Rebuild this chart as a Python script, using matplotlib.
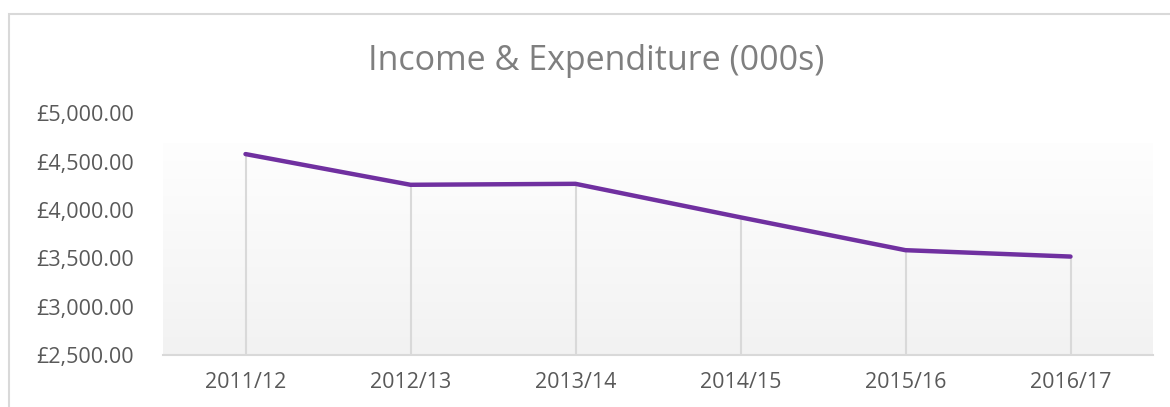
import numpy as np
import matplotlib.pyplot as plt
from matplotlib.patches import Rectangle
from matplotlib.ticker import FuncFormatter

years = ["2011/12", "2012/13", "2013/14", "2014/15", "2015/16", "2016/17"]
values = [4580, 4262, 4272, 3925, 3585, 3519]
yticks = [2500, 3000, 3500, 4000, 4500, 5000]

plt.rcParams['font.family'] = ['Open Sans', 'DejaVu Sans']

fig = plt.figure(figsize=(11.7, 4.07), dpi=100)
ax = fig.add_axes([163 / 1170, 1 - 355 / 407, (1153 - 163) / 1170, (355 - 113.5) / 407])

x = np.arange(len(years))
ax.set_xlim(-0.5, len(years) - 0.5)
ax.set_ylim(yticks[0], yticks[-1])

# plot area gradient (white at top -> light grey at bottom), starts a bit below the top tick
grad = np.linspace(0, 1, 256).reshape(-1, 1)
cmap = plt.matplotlib.colors.LinearSegmentedColormap.from_list("g", ["#f2f2f2", "#fefefe"])
ax.imshow(grad, aspect="auto", cmap=cmap, origin="lower",
          extent=(-0.5, len(years) - 0.5, yticks[0], 4688), zorder=0)

ax.vlines(x, yticks[0], values, color="#d9d9d9", lw=1.5, zorder=1)
ax.plot(x, values, color="#7030a0", lw=3.2, solid_capstyle="round", solid_joinstyle="round", zorder=2)

ax.set_facecolor("none")
for s in ["top", "right", "left"]:
    ax.spines[s].set_visible(False)
ax.spines["bottom"].set_color("#d9d9d9")
ax.spines["bottom"].set_linewidth(1.5)

ax.set_xticks(x)
ax.set_xticklabels(years)
ax.set_yticks(yticks)
ax.yaxis.set_major_formatter(FuncFormatter(lambda v, p: "£{:,.2f}".format(v)))
ax.tick_params(axis="both", length=0, labelsize=15.5, labelcolor="#595959")
ax.tick_params(axis="y", pad=21)
ax.tick_params(axis="x", pad=12)

fig.text(596 / 1170, 1 - 61 / 407, "Income & Expenditure (000s)", ha="center", va="center",
         fontsize=24.5, color="#7f7f7f")

fig.patches.append(Rectangle((9 / 1170, -0.1), 1.2, 1 - 14 / 407 + 0.1, transform=fig.transFigure,
                             fill=False, edgecolor="#d9d9d9", lw=1.5))

fig.savefig("out.png", dpi=100)
